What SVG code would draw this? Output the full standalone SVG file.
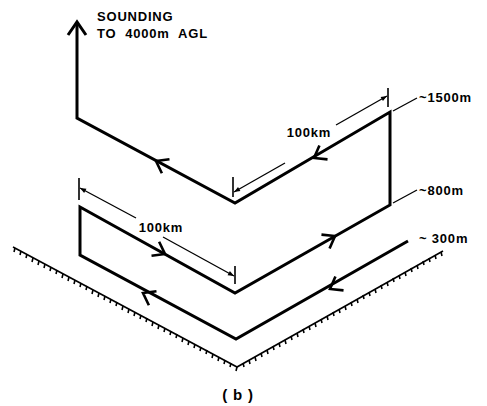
<svg xmlns="http://www.w3.org/2000/svg" width="487" height="406" viewBox="0 0 487 406">
<style>
.flight{fill:none;stroke:#000;stroke-width:3;stroke-linejoin:miter}
.chev{fill:none;stroke:#000;stroke-width:2.6}
.dim{fill:none;stroke:#000;stroke-width:1.3}
.tick{stroke:#000;stroke-width:1.6}
.ground{fill:none;stroke:#000;stroke-width:1.6}
text{font-family:"Liberation Sans",Arial,sans-serif;font-size:13px;font-weight:bold;fill:#000;letter-spacing:0.8px;white-space:pre}
</style>
<defs>
<marker id="dimArrow" viewBox="0 0 10 10" refX="10" refY="5" markerWidth="9" markerHeight="6" orient="auto-start-reverse" markerUnits="userSpaceOnUse">
<path d="M0,1 L10,5 L0,9 Z" fill="#000"/>
</marker>
<path id="chev" d="M-11,-8 L0,0 L-11,8" class="chev"/>
</defs>
<g id="ground">
<path class="ground" d="M13,247 L237,367 L443,251"/>
<path class="tick" d="M15,248 l-1,4 M21,251 l-1,4 M27,254 l-1,4 M33,258 l-1,4 M39,261 l-1,4 M45,264 l-1,4 M51,267 l-1,4 M57,270 l-1,4 M63,274 l-1,4 M69,277 l-1,4 M75,280 l-1,4 M81,283 l-1,4 M87,286 l-1,4 M93,290 l-1,4 M99,293 l-1,4 M105,296 l-1,4 M111,299 l-1,4 M117,302 l-1,4 M123,306 l-1,4 M129,309 l-1,4 M135,312 l-1,4 M141,315 l-1,4 M147,318 l-1,4 M153,322 l-1,4 M159,325 l-1,4 M165,328 l-1,4 M171,331 l-1,4 M177,334 l-1,4 M183,338 l-1,4 M189,341 l-1,4 M195,344 l-1,4 M201,347 l-1,4 M207,350 l-1,4 M213,354 l-1,4 M219,357 l-1,4 M225,360 l-1,4 M231,363 l-1,4 M237,367 l-1,4"/>
<path class="tick" d="M243,363 l1,4 M249,360 l1,4 M255,357 l1,4 M261,353 l1,4 M267,350 l1,4 M273,346 l1,4 M279,343 l1,4 M285,340 l1,4 M291,336 l1,4 M297,333 l1,4 M303,329 l1,4 M309,326 l1,4 M315,323 l1,4 M321,319 l1,4 M327,316 l1,4 M333,312 l1,4 M339,309 l1,4 M345,306 l1,4 M351,302 l1,4 M357,299 l1,4 M363,295 l1,4 M369,292 l1,4 M375,289 l1,4 M381,285 l1,4 M387,282 l1,4 M393,278 l1,4 M399,275 l1,4 M405,272 l1,4 M411,268 l1,4 M417,265 l1,4 M423,261 l1,4 M429,258 l1,4 M435,255 l1,4 M441,252 l1,4"/>
</g>
<g id="connectors">
<path id="flight-path" class="flight" d="M408,241 L236,339 L80,255 L80,207 L235,293 L390,205 L390,112 L235,203 L77,118 L77,24"/>
<path id="sounding-head" class="flight" d="M68,35 L77,22 L86,35"/>
<use href="#chev" transform="translate(156,161) rotate(208.4)"/>
<use href="#chev" transform="translate(314,158) rotate(149.6)"/>
<use href="#chev" transform="translate(165,254) rotate(28.4)"/>
<use href="#chev" transform="translate(335,236) rotate(-30.4)"/>
<use href="#chev" transform="translate(330,289) rotate(149.6)"/>
<use href="#chev" transform="translate(143,293) rotate(208.4)"/>
</g>
<g id="dim-upper">
<path class="tick" d="M233,177 L233,197 M388,88 L388,107"/>
<path class="dim" d="M285,163 L234,192" marker-end="url(#dimArrow)"/>
<path class="dim" d="M336,125 L387,96" marker-end="url(#dimArrow)"/>
<text x="309" y="137" text-anchor="middle">100km</text>
</g>
<g id="dim-lower">
<path class="tick" d="M79,178 L79,200 M235,266 L235,284"/>
<path class="dim" d="M136,218 L80,188" marker-end="url(#dimArrow)"/>
<path class="dim" d="M163,237 L234,276" marker-end="url(#dimArrow)"/>
<text x="161" y="232" text-anchor="middle">100km</text>
</g>
<g id="label-sounding">
<text x="97" y="21">SOUNDING</text>
<text x="97" y="38">TO  4000m  AGL</text>
</g>
<g id="label-1500">
<path class="dim" d="M393,111 L417,98"/>
<text x="419" y="102">~1500m</text>
</g>
<g id="label-800">
<path class="dim" d="M393,203 L417,190"/>
<text x="419" y="195">~800m</text>
</g>
<g id="label-300">
<text x="419" y="243">~ 300m</text>
</g>
<g id="caption">
<text x="238" y="400" text-anchor="middle" style="font-size:15px">( b )</text>
</g>
</svg>
